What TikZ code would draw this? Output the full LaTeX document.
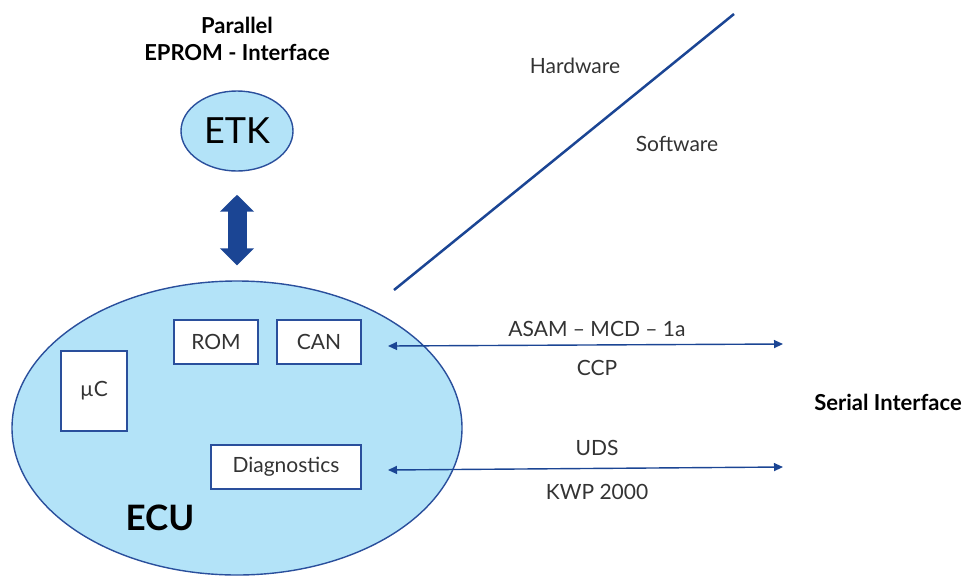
\documentclass[tikz,border=0pt]{standalone}
\usepackage{fontspec}
\setmainfont{Lato}
\usetikzlibrary{arrows.meta,shapes.geometric}
\definecolor{fillblue}{HTML}{B3E3F8}
\definecolor{edgeblue}{HTML}{2A4F9C}
\definecolor{arrowblue}{HTML}{1B4594}
\definecolor{txtgrey}{HTML}{333333}
\tikzset{
  blob/.style={ellipse,draw=edgeblue,fill=fillblue,line width=1.4pt,inner sep=0pt},
  unit/.style={rectangle,draw=edgeblue,fill=white,line width=1.3pt,text=txtgrey,font=\fontsize{21}{24}\selectfont,inner sep=0pt},
  lbl/.style={text=txtgrey,font=\fontsize{21}{24}\selectfont,inner sep=0pt},
  boldlbl/.style={text=black,font=\bfseries\fontsize{22}{27}\selectfont,inner sep=0pt,align=center},
  bigarrow/.style={draw=arrowblue,line width=19pt,{Triangle[length=17pt,width=33pt]}-{Triangle[length=17pt,width=33pt]}},
  linkarrow/.style={draw=arrowblue,line width=1.4pt,{Triangle[length=9pt,width=8pt]}-{Triangle[length=9pt,width=8pt]}},
  divider/.style={draw=arrowblue,line width=2.5pt}
}
\begin{document}
\begin{tikzpicture}[x=1pt,y=-1pt]
\path[use as bounding box] (0,0) rectangle (968,576);
\clip (0,0) rectangle (968,576);
% title
\node[boldlbl] (title) at (237,39) {Parallel\\EPROM - Interface};
% ETK
\node[blob,minimum width=112pt,minimum height=80pt,font=\fontsize{36}{40}\selectfont] (etk) at (237,131) {ETK};
% ECU
\node[blob,minimum width=450pt,minimum height=294pt] (ecu) at (237,428) {};
\node[text=black,font=\bfseries\fontsize{35}{38}\selectfont,inner sep=0pt] (ecul) at (160,518) {ECU};
% units
\node[unit,minimum width=66pt,minimum height=80pt] (uc) at (94,391) {µC};
\node[unit,minimum width=84pt,minimum height=44pt] (rom) at (216,342) {ROM};
\node[unit,minimum width=84pt,minimum height=44pt] (can) at (319,342) {CAN};
\node[unit,minimum width=150pt,minimum height=44pt] (diag) at (286,467) {Diagnostics};
% big arrow
\draw[bigarrow,shorten <=23pt,shorten >=15pt] (etk.south) -- (ecu.north);
% divider
\coordinate (d1) at (394,290);
\coordinate (d2) at (734,14);
\draw[divider] (d1) -- (d2);
\node[lbl] (hw) at (575,66) {Hardware};
\node[lbl] (sw) at (677,144) {Software};
% serial links
\coordinate (c1) at (388,346);
\coordinate (c2) at (783,344);
\coordinate (k1) at (388,470);
\coordinate (k2) at (783,467);
\draw[linkarrow] (c1) -- (c2);
\draw[linkarrow] (k1) -- (k2);
\node[lbl] (asam) at (597,329) {ASAM – MCD – 1a};
\node[lbl] (ccp) at (597,368) {CCP};
\node[lbl] (uds) at (597,448) {UDS};
\node[lbl] (kwp) at (597,492) {KWP 2000};
\node[text=black,font=\bfseries\fontsize{22}{26}\selectfont,inner sep=0pt] (serial) at (888,402) {Serial Interface};
\end{tikzpicture}
\end{document}
